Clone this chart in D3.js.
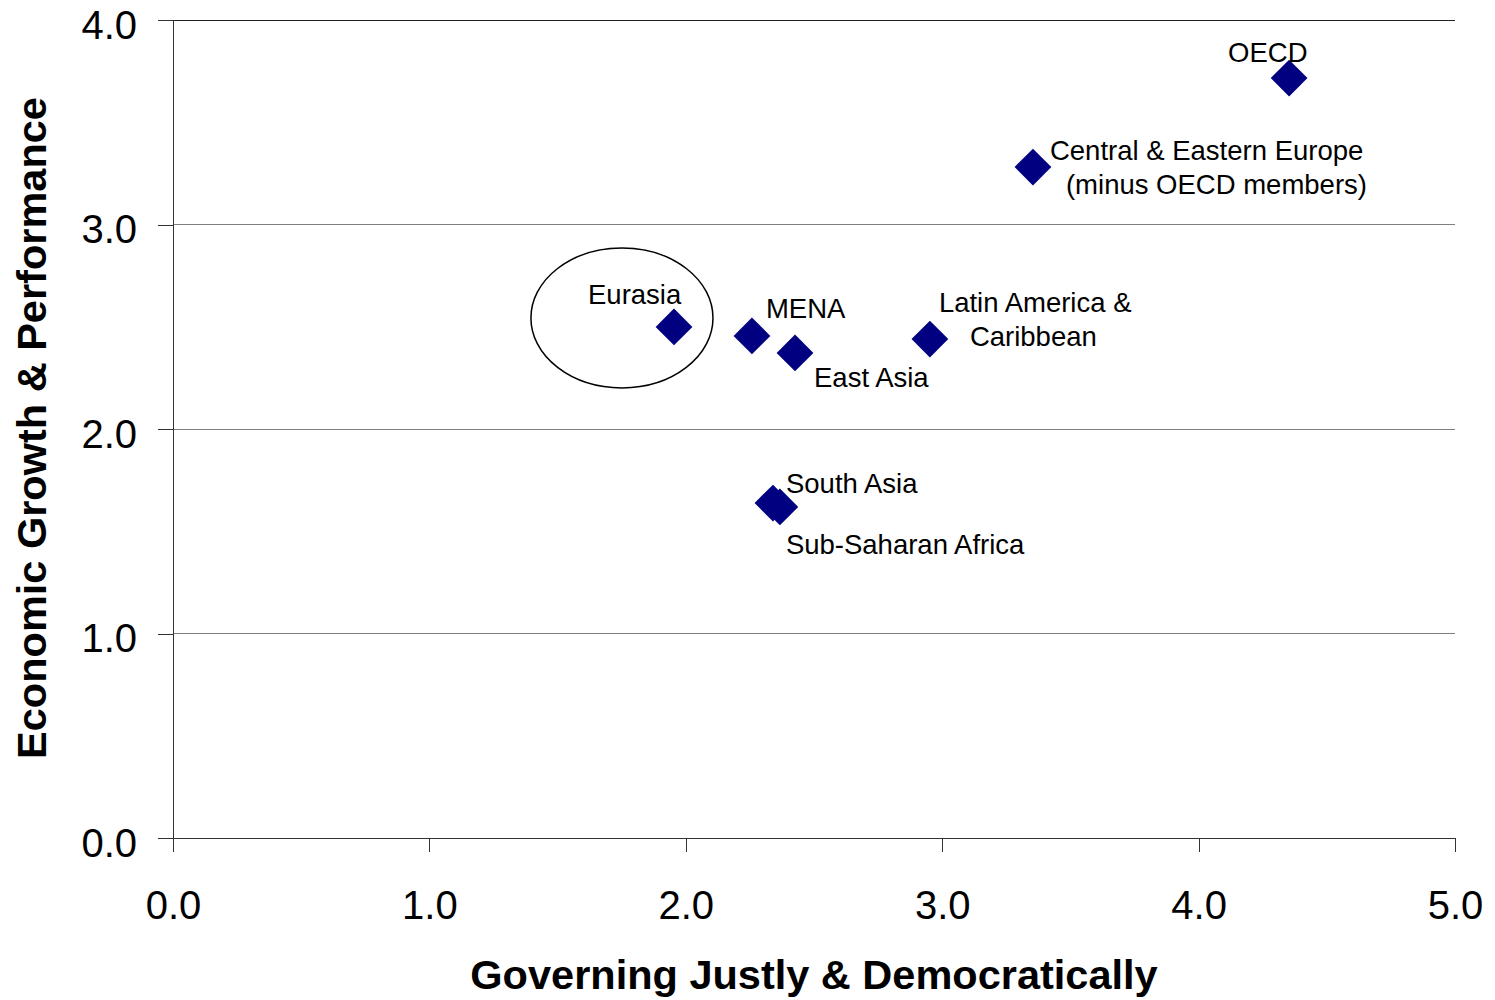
<!DOCTYPE html>
<html><head><meta charset="utf-8">
<script src="https://cdn.jsdelivr.net/npm/d3@7"></script>
<style>
body{margin:0;background:#fff;}
text{font-family:"Liberation Sans",Arial,sans-serif;fill:#000;}
</style></head>
<body><svg id="chart" width="1495" height="1000"></svg>
<script>
const regions = ["OECD","Central & Eastern Europe","Latin America & Caribbean","Eurasia","MENA","East Asia","South Asia","Sub-Saharan Africa"];
const governingJustly = [4.353, 3.354, 2.952, 1.954, 2.258, 2.426, 2.340, 2.367];
const economicGrowth = [3.716, 3.281, 2.440, 2.499, 2.455, 2.372, 1.638, 1.619];
const xTicks = [0,1,2,3,4,5];
const yTicks = [0,1,2,3,4];
const xTitle = "Governing Justly & Democratically";
const yTitle = "Economic Growth & Performance";
// highlight ellipse around Eurasia (data units)
const highlight = {cx:1.751, cy:2.543, rx:0.355, ry:0.342};

// label layout (pixel offsets from marker, lines)
const labelLayout = {
  "OECD": {lines:["OECD"], dx:-61, dy:-16},
  "Central & Eastern Europe": {lines:["Central & Eastern Europe","(minus OECD members)"], dx:17, dy:-7, lineDx:[0,16]},
  "Latin America & Caribbean": {lines:["Latin America &","Caribbean"], dx:9, dy:-27, lineDx:[0,31]},
  "Eurasia": {lines:["Eurasia"], dx:-86, dy:-23},
  "MENA": {lines:["MENA"], dx:14, dy:-18},
  "East Asia": {lines:["East Asia"], dx:19, dy:34},
  "South Asia": {lines:["South Asia"], dx:13, dy:-10},
  "Sub-Saharan Africa": {lines:["Sub-Saharan Africa"], dx:6, dy:47}
};

const svg = d3.select("#chart");
const x = d3.scaleLinear().domain([0,5]).range([173,1455]);
const y = d3.scaleLinear().domain([0,4]).range([838,20]);

// gridlines
svg.append("g").selectAll("line").data(yTicks.filter(d=>d>0)).join("line")
  .attr("x1",x(0)).attr("x2",x(5)).attr("y1",d=>y(d)).attr("y2",d=>y(d))
  .attr("stroke",d=>d===4?"#222":"#7f7f7f").attr("stroke-width",1).attr("shape-rendering","crispEdges");

// y axis
const yAxis = d3.axisLeft(y).tickValues(yTicks).tickFormat(d3.format(".1f")).tickSize(15).tickPadding(21);
const gy = svg.append("g").attr("transform",`translate(${x(0)},0)`).call(yAxis);
gy.select(".domain").attr("stroke","#333").attr("shape-rendering","crispEdges");
gy.selectAll(".tick line").attr("stroke","#333").attr("shape-rendering","crispEdges");
gy.selectAll(".tick text").attr("font-size",40).attr("font-family","Liberation Sans, Arial, sans-serif").attr("dy",18).attr("fill","#000");

// x axis
const xAxis = d3.axisBottom(x).tickValues(xTicks).tickFormat(d3.format(".1f")).tickSize(14).tickPadding(22);
const gx = svg.append("g").attr("transform",`translate(0,${y(0)})`).call(xAxis);
gx.select(".domain").attr("stroke","#333").attr("shape-rendering","crispEdges");
gx.selectAll(".tick line").attr("stroke","#333").attr("shape-rendering","crispEdges");
gx.selectAll(".tick text").attr("font-size",40).attr("font-family","Liberation Sans, Arial, sans-serif").attr("dy",45).attr("fill","#000");

// ellipse
svg.append("ellipse")
  .attr("cx",x(highlight.cx)).attr("cy",y(highlight.cy))
  .attr("rx",x(highlight.rx)-x(0)).attr("ry",y(0)-y(highlight.ry))
  .attr("fill","none").attr("stroke","#000").attr("stroke-width",1.5);

const pts = regions.map((r,i)=>({name:r, gx:governingJustly[i], ey:economicGrowth[i]}));

// markers
const diamond = d3.symbol().type(d3.symbolSquare).size(26*26);
svg.append("g").selectAll("path").data(pts).join("path")
  .attr("d",diamond)
  .attr("transform",d=>`translate(${x(d.gx)},${y(d.ey)}) rotate(45)`)
  .attr("fill","#000080");

// labels
const lg = svg.append("g");
pts.forEach(p=>{
  const L = labelLayout[p.name];
  L.lines.forEach((ln,j)=>{
    lg.append("text")
      .attr("x",x(p.gx)+L.dx+((L.lineDx||[])[j]||0))
      .attr("y",y(p.ey)+L.dy+j*34)
      .attr("font-size",27.5)
      .text(ln);
  });
});

// axis titles
svg.append("text").attr("x",814).attr("y",989).attr("text-anchor","middle")
  .attr("font-size",41.5).attr("font-weight","bold").text(xTitle);
svg.append("text").attr("transform","translate(46,428) rotate(-90)").attr("text-anchor","middle")
  .attr("font-size",41.5).attr("font-weight","bold").text(yTitle);
</script></body></html>
